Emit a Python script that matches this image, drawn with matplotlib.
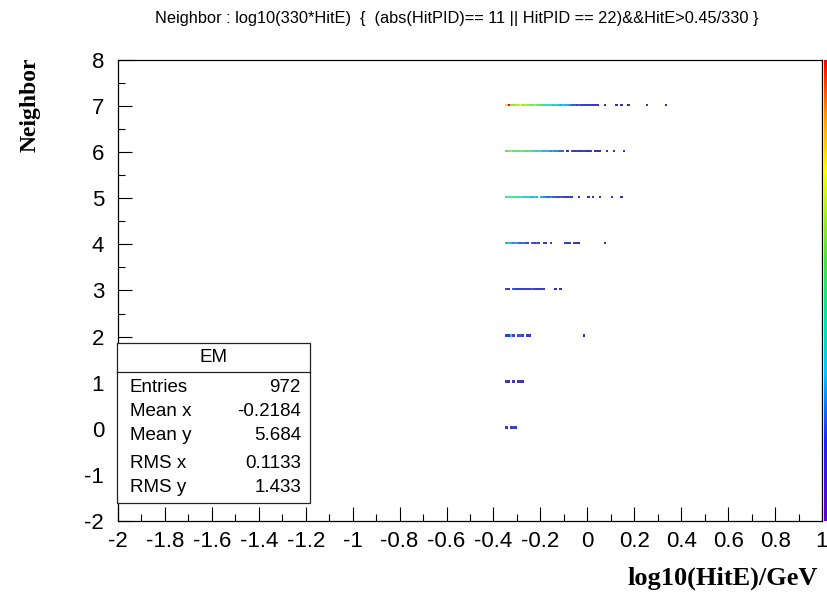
import numpy as np
import matplotlib
matplotlib.use("Agg")
import matplotlib.pyplot as plt
from matplotlib import font_manager
from matplotlib.colors import LinearSegmentedColormap
from matplotlib.patches import Rectangle
from matplotlib.lines import Line2D
from matplotlib.ticker import MultipleLocator

# ---------------- data ----------------
title = "Neighbor : log10(330*HitE)  {  (abs(HitPID)== 11 || HitPID == 22)&&HitE>0.45/330 }"
x_title = "log10(HitE)/GeV"
y_title = "Neighbor"

x_start = -0.35      # first filled x bin (log10(0.45))
x_bin = 0.01
y_bin = 0.05

neighbors = [7, 6, 5, 4, 3, 2, 1, 0]
counts_n7 = [14, 24, 13, 12, 14, 13, 15, 12, 14, 13, 12, 11, 13, 12, 10, 11,
             9, 8, 9, 8, 7, 8, 7, 6, 7, 6, 6, 5,
             4, 4, 3, 4, 3, 3, 2, 3, 2, 2, 2, 1,
             0, 0, 1, 0, 0, 0, 0, 1, 0, 1, 0, 0, 1,
             0, 0, 0, 0, 0, 0, 0, 1, 0, 0, 0, 0, 0, 0, 0, 1]
counts_n6 = [11, 12, 13, 11, 12, 10, 12, 11, 10, 11, 10, 9,
             8, 7, 8, 7, 6, 7, 6, 5, 6, 5, 5, 4, 4,
             0, 1, 0,
             3, 2, 3, 2, 2, 3, 2, 1, 2, 0, 2, 1, 1,
             0, 0, 1, 0, 0, 1, 0, 0, 0, 1]
counts_n5 = [10, 11, 9, 10, 9, 8, 9, 8, 7, 8, 7, 6, 7, 6, 0, 6, 5, 5, 4, 5,
             4, 4, 3, 4, 3, 3, 2, 3, 2,
             0, 0, 1, 0, 0, 0, 1, 0, 1, 0, 0, 1, 0, 0, 0, 0, 1, 0, 0, 0, 1]
counts_n4 = [6, 7, 6, 5, 6, 5, 4, 5, 4, 3, 0, 4, 3, 4, 3, 0, 3, 2, 0, 2,
             0, 0, 0, 0, 0, 3, 2, 3, 0, 2, 2, 1,
             0, 0, 0, 0, 0, 0, 0, 0, 0, 0, 1]
counts_n3 = [3, 2, 0, 4, 3, 2, 3, 2, 3, 3, 3, 4, 3, 2, 2, 3, 2, 0, 0, 0, 0, 1, 0, 1]
counts_n2 = [3, 2, 7, 3, 0, 3, 4, 2, 0, 2, 2,
             0, 0, 0, 0, 0, 0, 0, 0, 0, 0, 0, 0, 0, 0, 0, 0, 0, 0, 0, 0, 0, 0, 1]
counts_n1 = [2, 1, 0, 2, 0, 2, 2, 1]
counts_n0 = [2, 0, 2, 3, 2]
row_counts = [counts_n7, counts_n6, counts_n5, counts_n4,
              counts_n3, counts_n2, counts_n1, counts_n0]

stats_name = "EM"
stats_labels = ["Entries", "Mean x", "Mean y", "RMS x", "RMS y"]
stats_values = ["972", "-0.2184", "5.684", "0.1133", "1.433"]

x_ticks = [-2, -1.8, -1.6, -1.4, -1.2, -1, -0.8, -0.6, -0.4, -0.2,
           0, 0.2, 0.4, 0.6, 0.8, 1]
x_tick_labels = ["-2", "-1.8", "-1.6", "-1.4", "-1.2", "-1", "-0.8", "-0.6",
                 "-0.4", "-0.2", "0", "0.2", "0.4", "0.6", "0.8", "1"]
y_ticks = [-2, -1, 0, 1, 2, 3, 4, 5, 6, 7, 8]
y_tick_labels = [str(v) for v in y_ticks]

# ---------------- histogram grid ----------------
x_edges = np.round(np.arange(-2, 1 + 1e-9, x_bin), 4)
y_edges = np.round(np.arange(-2, 8 + 1e-9, y_bin), 4)
H = np.zeros((len(y_edges) - 1, len(x_edges) - 1))
ix0 = int(round((x_start - x_edges[0]) / x_bin))
for n, cnts in zip(neighbors, row_counts):
    iy = int(round((n - y_edges[0]) / y_bin))
    for i, c in enumerate(cnts):
        H[iy, ix0 + i] += c

cmap = LinearSegmentedColormap.from_list(
    "rootpal",
    [(0.0, "#40259a"), (0.17, "#3c46d8"), (0.32, "#28c0f0"),
     (0.45, "#40e0b0"), (0.57, "#70e060"), (0.76, "#f0f020"),
     (0.88, "#ff9900"), (1.0, "#ff0000")])
cbar_cmap = LinearSegmentedColormap.from_list(
    "rootpal_bar",
    [(0.0, "#6a00c8"), (0.17, "#2020ff"), (0.32, "#00c8ff"),
     (0.45, "#00e8a0"), (0.57, "#50e040"), (0.76, "#ffff00"),
     (0.88, "#ff9900"), (1.0, "#ff0000")])

# ---------------- fonts ----------------
installed = {f.name for f in font_manager.fontManager.ttflist}
if "Liberation Sans Narrow" in installed:
    sans = ["Liberation Sans Narrow", "DejaVu Sans"]
    tick_fs, title_fs, stat_fs = 18, 12.5, 15
else:
    sans = ["Liberation Sans", "DejaVu Sans"]
    tick_fs, title_fs, stat_fs = 16, 11.8, 13.5
serif_b = ["Liberation Serif", "DejaVu Serif"]

# ---------------- figure ----------------
fig = plt.figure(figsize=(8.28, 6.03), dpi=100)
W, Hpx = 828.0, 603.0
ax_l, ax_r, ax_t, ax_b = 118, 822, 60, 521
ax = fig.add_axes([ax_l / W, 1 - ax_b / Hpx, (ax_r - ax_l) / W, (ax_b - ax_t) / Hpx])

mesh = ax.pcolormesh(x_edges, y_edges, np.ma.masked_equal(H, 0),
                     cmap=cmap, vmin=0, vmax=20, shading="flat")

ax.set_xlim(-2, 1)
ax.set_ylim(-2, 8)
ax.set_xticks(x_ticks)
ax.set_xticklabels(x_tick_labels, family=sans, fontsize=tick_fs)
ax.set_yticks(y_ticks)
ax.set_yticklabels(y_tick_labels, family=sans, fontsize=tick_fs)
ax.xaxis.set_minor_locator(MultipleLocator(0.1))
ax.yaxis.set_minor_locator(MultipleLocator(0.5))
ax.tick_params(which="both", direction="in", top=False, right=False, width=0.8)
ax.tick_params(which="major", length=10)
ax.tick_params(which="minor", length=5)
ax.tick_params(axis="x", which="major", pad=7)
ax.tick_params(axis="y", which="major", pad=10)
for s in ax.spines.values():
    s.set_linewidth(0.9)

# palette strip on the right edge
cax = fig.add_axes([824 / W, 1 - ax_b / Hpx, 0.02, (ax_b - ax_t) / Hpx])
cax.imshow(np.linspace(0, 1, 256)[:, None], cmap=cbar_cmap, aspect="auto",
           origin="lower", extent=[0, 1, 0, 20])
cax.set_xticks([])
cax.set_yticks([])
for s in cax.spines.values():
    s.set_visible(False)

# titles
fig.text(457 / W, 1 - 18 / Hpx, title, ha="center", va="center",
         family=sans, fontsize=title_fs)
fig.text(818 / W, 1 - 578 / Hpx, x_title, ha="right", va="center",
         family=serif_b, fontweight="bold", fontsize=19)
fig.text(30 / W, 1 - 58 / Hpx, y_title, ha="center", va="top", rotation=90,
         family=serif_b, fontweight="bold", fontsize=17)

# stats box
bx0, bx1, by0, by1 = 117, 310, 343, 503
fig.add_artist(Rectangle((bx0 / W, 1 - by1 / Hpx), (bx1 - bx0) / W, (by1 - by0) / Hpx,
                         transform=fig.transFigure, facecolor="white",
                         edgecolor="#222222", linewidth=0.9, zorder=5))
fig.add_artist(Line2D([bx0 / W, bx1 / W], [1 - 372 / Hpx, 1 - 372 / Hpx],
                      transform=fig.transFigure, color="#222222", lw=0.9, zorder=6))
fig.text((bx0 + bx1) / 2 / W, 1 - 358 / Hpx, stats_name, ha="center", va="center",
         family=sans, fontsize=stat_fs, zorder=7)
row_y = [387, 411, 435, 463, 488]
for lab, val, yy in zip(stats_labels, stats_values, row_y):
    fig.text(130 / W, 1 - yy / Hpx, lab, ha="left", va="center",
             family=sans, fontsize=stat_fs, zorder=7)
    fig.text(301 / W, 1 - yy / Hpx, val, ha="right", va="center",
             family=sans, fontsize=stat_fs, zorder=7)

fig.savefig("out.png", dpi=100)
